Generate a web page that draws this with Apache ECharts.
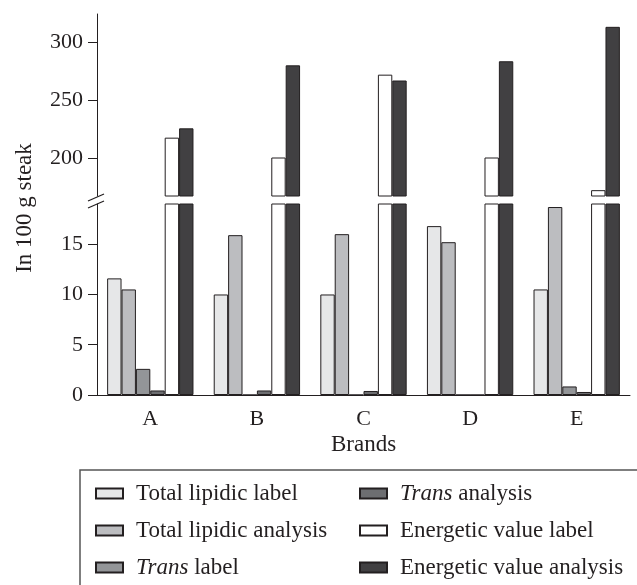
<!DOCTYPE html>
<html><head><meta charset="utf-8">
<script src="https://cdn.jsdelivr.net/npm/echarts@6/dist/echarts.min.js"></script>
<style>html,body{margin:0;padding:0;background:#fff}#c{width:637px;height:585px}</style>
</head><body><div id="c"></div>
<script>
const categories = ['A', 'B', 'C', 'D', 'E'];
const seriesNames = ['Total lipidic label', 'Total lipidic analysis', 'Trans label', 'Trans analysis', 'Energetic value label', 'Energetic value analysis'];
const totalLipidicLabel = [11.6, 10.0, 10.0, 16.8, 10.5];
const totalLipidicAnalysis = [10.5, 15.9, 16.0, 15.2, 18.7];
const transLabel = [2.6, 0, 0, 0, 0.85];
const transAnalysis = [0.45, 0.45, 0.4, 0, 0.3];
const energeticLabel = [218, 201, 272, 201, 173];
const energeticAnalysis = [226, 280, 267, 283.5, 313];
const upperTicks = [200, 250, 300];
const lowerTicks = [0, 5, 10, 15];

const colors = ['#e6e7e8', '#bcbdc0', '#939598', '#6d6e71', '#ffffff', '#414042'];
const allData = [totalLipidicLabel, totalLipidicAnalysis, transLabel, transAnalysis, energeticLabel, energeticAnalysis];
const FONT = 'Liberation Serif';
const TXT = '#231f20';

const series = [];
allData.forEach((d, i) => {
  series.push({
    name: seriesNames[i], type: 'bar', xAxisIndex: 0, yAxisIndex: 0,
    data: i >= 4 ? d : d.map(() => '-'),
    barGap: '0%', barCategoryGap: '19%',
    itemStyle: { color: colors[i], borderColor: TXT, borderWidth: 1 },
    emphasis: { disabled: true }, animation: false
  });
});
allData.forEach((d, i) => {
  series.push({
    name: seriesNames[i], type: 'bar', xAxisIndex: 1, yAxisIndex: 1,
    data: d,
    barGap: '0%', barCategoryGap: '19%',
    itemStyle: { color: colors[i], borderColor: TXT, borderWidth: 1 },
    emphasis: { disabled: true }, animation: false
  });
});

const legendFormatter = n => n.indexOf('Trans') === 0 ? '{i|Trans}' + n.slice(5) : n;
const legendBase = {
  orient: 'vertical', top: 482, padding: 0, itemWidth: 27, itemHeight: 10, itemGap: 14,
  icon: 'rect', selectedMode: false,
  formatter: legendFormatter,
  textStyle: { fontFamily: FONT, fontSize: 23, lineHeight: 23, color: TXT, padding: [0, 0, 0, 8],
    rich: { i: { fontFamily: FONT, fontSize: 23, lineHeight: 23, fontStyle: 'italic', color: TXT } } }
};

const chart = echarts.init(document.getElementById('c'), null, { renderer: 'canvas' });
chart.setOption({
  animation: false,
  grid: [
    { left: 97, top: 14, width: 533, height: 182 },
    { left: 97, top: 204, width: 533, height: 191 }
  ],
  xAxis: [
    { type: 'category', gridIndex: 0, data: categories, show: false },
    { type: 'category', gridIndex: 1, data: categories,
      name: 'Brands', nameLocation: 'middle', nameGap: 38,
      nameTextStyle: { fontFamily: FONT, fontSize: 23, color: TXT },
      axisLine: { lineStyle: { color: TXT, width: 1 } },
      axisTick: { alignWithLabel: true, length: 7, lineStyle: { color: TXT } },
      axisLabel: { fontFamily: FONT, fontSize: 22, color: TXT, margin: 13 } }
  ],
  yAxis: [
    { type: 'value', gridIndex: 0, min: 168, max: 324,
      splitLine: { show: false },
      axisLine: { show: true, lineStyle: { color: TXT, width: 1 } },
      axisTick: { show: true, length: 9, lineStyle: { color: TXT }, customValues: upperTicks },
      axisLabel: { fontFamily: FONT, fontSize: 22, color: TXT, margin: 14, customValues: upperTicks } },
    { type: 'value', gridIndex: 1, min: 0, max: 19,
      splitLine: { show: false },
      axisLine: { show: true, lineStyle: { color: TXT, width: 1 } },
      axisTick: { show: true, length: 9, lineStyle: { color: TXT }, customValues: lowerTicks },
      axisLabel: { fontFamily: FONT, fontSize: 22, color: TXT, margin: 14, customValues: lowerTicks } }
  ],
  legend: [
    Object.assign({}, legendBase, { left: 95, data: seriesNames.slice(0, 3) }),
    Object.assign({}, legendBase, { left: 359, data: seriesNames.slice(3, 6) })
  ],
  graphic: [
    { type: 'text', x: 25, y: 208, rotation: Math.PI / 2,
      style: { text: 'In 100 g steak', font: '23px "Liberation Serif"', fill: TXT, align: 'center', verticalAlign: 'middle' } },
    { type: 'polyline', shape: { points: [[638, 470], [80, 470], [80, 586]] },
      style: { stroke: '#555', lineWidth: 1.5, fill: null } },
    { type: 'line', shape: { x1: 88, y1: 201, x2: 104, y2: 194 }, style: { stroke: TXT, lineWidth: 1.2 } },
    { type: 'line', shape: { x1: 88, y1: 208, x2: 104, y2: 201 }, style: { stroke: TXT, lineWidth: 1.2 } }
  ],
  series: series
});
</script></body></html>
